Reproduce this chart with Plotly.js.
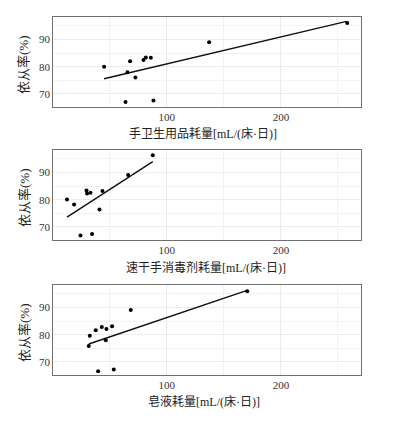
<!DOCTYPE html>
<html>
<head>
<meta charset="utf-8">
<script src="https://cdn.plot.ly/plotly-3.0.1.min.js"></script>
<style>html,body{margin:0;padding:0;background:#fff;}#chart{width:394px;height:421px;}</style>
</head>
<body>
<div id="chart"></div>
<script>
// Panel 1: total hand hygiene product consumption vs compliance
const handTotalX = [45.0, 67.8, 65.5, 72.5, 63.8, 79.6, 81.6, 86.0, 88.3, 137.1, 258.2];
const handTotalY = [80.0, 82.0, 78.0, 76.1, 67.1, 82.5, 83.4, 83.3, 67.6, 89.0, 96.1];
const handTotalFitX = [45.0, 257.6];
const handTotalFitY = [75.6, 96.7];

// Panel 2: alcohol-based hand rub consumption vs compliance
const rubX = [12.5, 18.7, 24.3, 29.6, 30.1, 33.1, 34.5, 41.0, 43.6, 66.1, 87.7];
const rubY = [80.1, 78.3, 66.9, 83.4, 82.3, 82.6, 67.4, 76.4, 83.2, 89.1, 96.4];
const rubFitX = [12.5, 87.7];
const rubFitY = [73.6, 94.0];

// Panel 3: liquid soap consumption vs compliance
const soapX = [31.6, 32.5, 37.7, 39.8, 43.0, 47.1, 46.5, 52.0, 53.5, 68.4, 170.5];
const soapY = [75.9, 79.6, 81.7, 66.6, 82.9, 82.1, 78.0, 83.1, 67.2, 89.1, 96.0];
const soapFitX = [31.6, 170.4];
const soapFitY = [76.6, 96.3];

const xTitles = ["手卫生用品耗量[mL/(床·日)]", "速干手消毒剂耗量[mL/(床·日)]", "皂液耗量[mL/(床·日)]"];
const yTitle = "依从率(%)";

const FONT = "Liberation Serif, Noto Sans CJK SC, serif";
const panels = [
  {x: handTotalX, y: handTotalY, fx: handTotalFitX, fy: handTotalFitY},
  {x: rubX, y: rubY, fx: rubFitX, fy: rubFitY},
  {x: soapX, y: soapY, fx: soapFitX, fy: soapFitY}
];

const traces = [];
panels.forEach((p, i) => {
  const xa = i === 0 ? 'x' : 'x' + (i + 1);
  const ya = i === 0 ? 'y' : 'y' + (i + 1);
  traces.push({x: p.fx, y: p.fy, xaxis: xa, yaxis: ya, type: 'scatter', mode: 'lines',
    line: {color: '#111', width: 1.4}, hoverinfo: 'skip', showlegend: false});
  traces.push({x: p.x, y: p.y, xaxis: xa, yaxis: ya, type: 'scatter', mode: 'markers',
    marker: {color: '#000', size: 4}, showlegend: false});
});

const H = 421, W = 394;
const panelPx = [[17, 106.5], [150, 239.5], [285, 374.5]];
const xTitlePx = [[202.5, 134], [206, 267.7], [204, 401.7]];
const yTitlePx = [65, 198, 333];

const layout = {
  width: W, height: H,
  margin: {l: 0, r: 0, t: 0, b: 0},
  paper_bgcolor: '#fff', plot_bgcolor: '#fff',
  showlegend: false,
  annotations: []
};

panelPx.forEach((pp, i) => {
  const sfx = i === 0 ? '' : String(i + 1);
  layout['xaxis' + sfx] = {
    domain: [53.3 / W, 361.3 / W],
    range: [0.5, 270.5],
    anchor: 'y' + sfx,
    tick0: 0, dtick: 100,
    showgrid: true, gridcolor: '#ebebeb', gridwidth: 1,
    minor: {tick0: 0, dtick: 50, showgrid: true, gridcolor: '#f3f3f3', gridwidth: 1},
    zeroline: false,
    showline: true, mirror: true, linecolor: '#707070', linewidth: 1,
    ticks: '',
    tickfont: {family: FONT, size: 11, color: '#333'}
  };
  layout['yaxis' + sfx] = {
    domain: [1 - pp[1] / H, 1 - pp[0] / H],
    range: [65.4, 98.3],
    anchor: 'x' + sfx,
    tick0: 0, dtick: 10,
    showgrid: true, gridcolor: '#ebebeb', gridwidth: 1,
    minor: {tick0: 0, dtick: 5, showgrid: true, gridcolor: '#f3f3f3', gridwidth: 1},
    zeroline: false,
    showline: true, mirror: true, linecolor: '#707070', linewidth: 1,
    ticks: '',
    tickfont: {family: FONT, size: 11, color: '#333'}
  };
  layout.annotations.push({
    text: xTitles[i], xref: 'paper', yref: 'paper',
    x: xTitlePx[i][0] / W, y: 1 - xTitlePx[i][1] / H,
    xanchor: 'center', yanchor: 'middle', showarrow: false,
    font: {family: FONT, size: 12, color: '#222'}
  });
  layout.annotations.push({
    text: yTitle, xref: 'paper', yref: 'paper',
    x: 24 / W, y: 1 - yTitlePx[i] / H,
    xanchor: 'center', yanchor: 'middle', showarrow: false, textangle: -90,
    font: {family: FONT, size: 13, color: '#222'}
  });
});

Plotly.newPlot('chart', traces, layout, {displayModeBar: false, staticPlot: true});
</script>
</body>
</html>
